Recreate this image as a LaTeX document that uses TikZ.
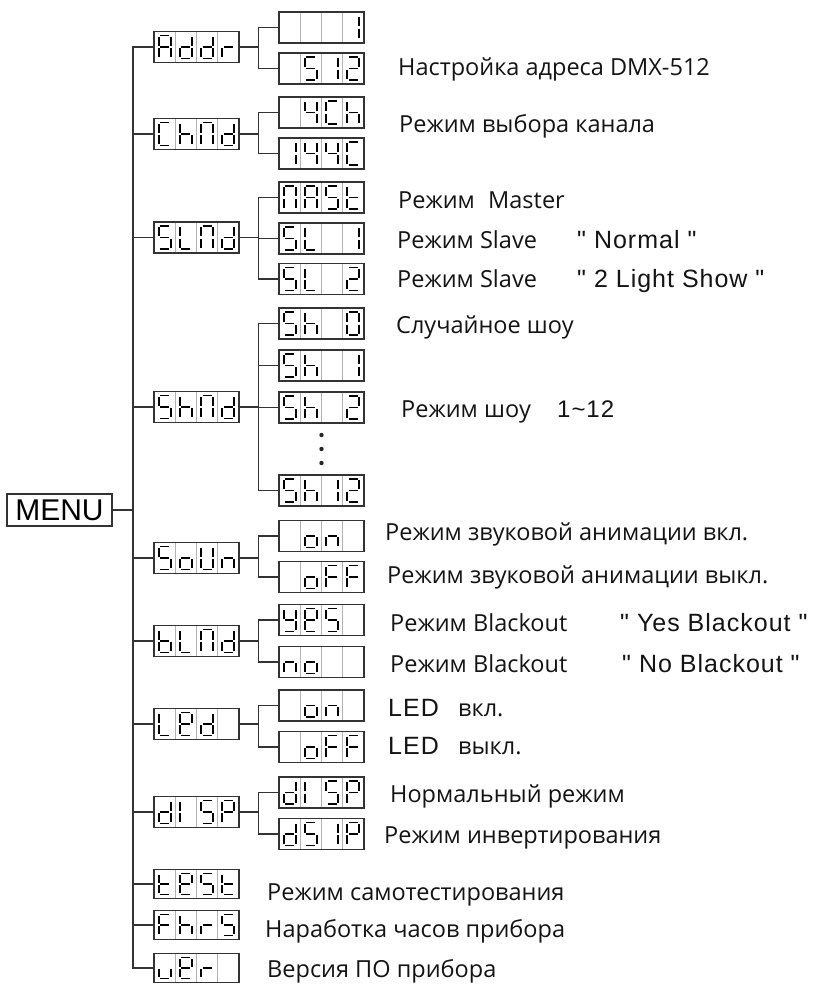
\documentclass[tikz,border=0pt]{standalone}
\usepackage{fontspec}
\setmainfont{Open Sans}
\newfontfamily\ari{Liberation Sans}
\newfontfamily\aris[LetterSpace=4]{Liberation Sans}
\newcommand\qtf{\aris\fontsize{25}{28}\selectfont}
\usetikzlibrary{calc}
\tikzset{
  conn/.style={draw=black!80, line width=1.4pt},
  lcdbox/.style={draw=black!80, line width=1.3pt, minimum width=85pt, inner sep=0pt, outer sep=0pt},
  cellline/.style={draw=black!30, line width=0.9pt},
  segline/.style={draw=black, line width=1.8pt},
  ru/.style={anchor=base west, inner sep=0pt, text=black!92, font=\fontsize{23.5}{27}\selectfont},
  dotmark/.style={fill=black!85},
}
\def\gp{1.4}
\pgfkeys{
  /seg/a/.code={\draw[segline] (\xl+\gp,\yt) -- (\xr-\gp,\yt);},
  /seg/b/.code={\draw[segline] (\xr,\yt+\gp) -- (\xr,-\gp);},
  /seg/c/.code={\draw[segline] (\xr,\gp) -- (\xr,\yb-\gp);},
  /seg/d/.code={\draw[segline] (\xl+\gp,\yb) -- (\xr-\gp,\yb);},
  /seg/e/.code={\draw[segline] (\xl,\gp) -- (\xl,\yb-\gp);},
  /seg/f/.code={\draw[segline] (\xl,\yt+\gp) -- (\xl,-\gp);},
  /seg/g/.code={\draw[segline] (\xl+\gp,0) -- (\xr-\gp,0);},
}
\newcommand\segs[1]{\foreach \sg in {#1}{\pgfkeys{/seg/\sg}}}
\pgfkeys{
  /ch/sp/.code={},
  /ch/A/.code={\segs{a,b,c,e,f,g}},
  /ch/d/.code={\segs{b,c,d,e,g}},
  /ch/r/.code={\segs{e,g}},
  /ch/1/.code={\segs{b,c}},
  /ch/5/.code={\segs{a,f,g,c,d}},
  /ch/2/.code={\segs{a,b,g,e,d}},
  /ch/4/.code={\segs{f,g,b,c}},
  /ch/C/.code={\segs{a,f,e,d}},
  /ch/h/.code={\segs{f,e,g,c}},
  /ch/N/.code={\segs{a,b,c,e,f}},
  /ch/t/.code={\segs{f,e,g,d}},
  /ch/L/.code={\segs{f,e,d}},
  /ch/0/.code={\segs{a,b,c,d,e,f}},
  /ch/o/.code={\segs{g,c,d,e}},
  /ch/n/.code={\segs{g,e,c}},
  /ch/F/.code={\segs{a,f,g,e}},
  /ch/U/.code={\segs{b,c,d,e,f}},
  /ch/b/.code={\segs{f,e,g,c,d}},
  /ch/y/.code={\segs{f,g,b,c,d}},
  /ch/E/.code={\segs{a,b,f,g,e,d}},
  /ch/Il/.code={\segs{e,f}},
  /ch/P/.code={\segs{a,b,f,g,e}},
  /ch/v/.code={\segs{e,d,c}},
}
\newcommand\lcdcell[2]{%
  \pgfmathsetmacro\xl{-42.5+#1*21.25+4.6}%
  \pgfmathsetmacro\xr{-42.5+#1*21.25+16.6}%
  \pgfkeys{/ch/#2}}
\newcommand\lcd[8][15.5]{%
  \begin{scope}[shift={(#3,#4)}]
    \pgfmathsetmacro\yt{-#1+4}\pgfmathsetmacro\yb{#1-4}%
    \node[lcdbox, minimum height={2*#1pt}] (#2) at (0,0) {};
    \foreach \k in {1,2,3}{\draw[cellline] (-42.5+\k*21.25,-#1+0.65) -- (-42.5+\k*21.25,#1-0.65);}
    \lcdcell{0}{#5}\lcdcell{1}{#6}\lcdcell{2}{#7}\lcdcell{3}{#8}
  \end{scope}}
\begin{document}
\begin{tikzpicture}[x=1pt,y=-1pt]
\fill[white] (0,0) rectangle (816,984);
\useasboundingbox (0,0) rectangle (816,984);

% ---- display boxes ----
\lcd{addr}{196.5}{47}{A}{d}{d}{r}
\lcd{addrA}{321.5}{27.5}{sp}{sp}{sp}{1}
\lcd{addrB}{321.5}{68.5}{sp}{5}{1}{2}
\lcd{chnd}{196.5}{134}{C}{h}{N}{d}
\lcd{chA}{321.5}{112.5}{sp}{4}{C}{h}
\lcd{chB}{321.5}{153.5}{1}{4}{4}{C}
\lcd{slnd}{196.5}{237.5}{5}{L}{N}{d}
\lcd{slA}{321.5}{197.5}{N}{A}{5}{t}
\lcd{slB}{321.5}{238.5}{5}{L}{sp}{1}
\lcd{slC}{321.5}{279}{5}{L}{sp}{2}
\lcd{shnd}{196.5}{407}{5}{h}{N}{d}
\lcd{shA}{321.5}{323.5}{5}{h}{sp}{0}
\lcd{shB}{321.5}{365.5}{5}{h}{sp}{1}
\lcd{shC}{321.5}{407.5}{5}{h}{sp}{2}
\lcd{shD}{321.5}{490.5}{5}{h}{1}{2}
\lcd{soun}{196.5}{558}{5}{o}{U}{n}
\lcd{soA}{321.5}{536}{sp}{o}{n}{sp}
\lcd{soB}{321.5}{577}{sp}{o}{F}{F}
\lcd{blnd}{196.5}{641}{b}{L}{N}{d}
\lcd{blA}{321.5}{620}{y}{E}{5}{sp}
\lcd{blB}{321.5}{662}{n}{o}{sp}{sp}
\lcd{led}{196.5}{724}{L}{E}{d}{sp}
\lcd{leA}{321.5}{705.5}{sp}{o}{n}{sp}
\lcd{leB}{321.5}{747}{sp}{o}{F}{F}
\lcd{disp}{196.5}{812}{d}{Il}{5}{P}
\lcd{diA}{321.5}{792.5}{d}{Il}{5}{P}
\lcd{diB}{321.5}{834}{d}{5}{1}{P}
\lcd[14.5]{test}{196.5}{884}{t}{E}{5}{t}
\lcd[14.5]{fhrs}{196.5}{925}{F}{h}{r}{5}
\lcd[14.5]{ver}{196.5}{968}{v}{E}{r}{sp}

\node[draw=black!80, line width=1.3pt, minimum width=105pt, minimum height=32pt, inner sep=0pt,
      font=\ari\fontsize{30}{30}\selectfont] (menu) at (59.5,510) {MENU};

\fill[dotmark] (321.5,435) circle (2.2) (321.5,449) circle (2.2) (321.5,463) circle (2.2);

% ---- trunk ----
\coordinate (trunk) at (133,0);
\draw[conn] (addr.west) -- (addr.west -| trunk) -- (ver.west -| trunk) -- (ver.west);
\foreach \n in {chnd,slnd,shnd,soun,blnd,led,disp,test,fhrs}{\draw[conn] (\n.west) -- (\n.west -| trunk);}
\draw[conn] (menu.east) -- (menu.east -| trunk);

% ---- branches ----
\coordinate (br) at (258.5,0);
\foreach \p/\f/\l in {addr/addrA/addrB, chnd/chA/chB, slnd/slA/slC, shnd/shA/shD, soun/soA/soB, blnd/blA/blB, led/leA/leB, disp/diA/diB}{
  \draw[conn] (\f.west) -- (\f.west -| br) -- (\l.west -| br) -- (\l.west);
  \draw[conn] (\p.east) -- (\p.east -| br);
}
\foreach \m in {slB,shB,shC}{\draw[conn] (\m.west) -- (\m.west -| br);}

% ---- texts ----
\node[ru] (t1) at (398,76) {Настройка адреса DMX-512};
\node[ru] (t2) at (399,133) {Режим выбора канала};
\node[ru] (t3) at (398,209) {\makebox[90pt][l]{Режим}Master};
\node[ru] (t4) at (397,248) {\makebox[180pt][l]{Режим Slave}{\qtf " Normal "}};
\node[ru] (t5) at (397,287) {\makebox[180pt][l]{Режим Slave}{\qtf " 2 Light Show "}};
\node[ru] (t6) at (396,333) {Случайное шоу};
\node[ru] (t7) at (401,417) {\makebox[156pt][l]{Режим шоу}{\aris\fontsize{24}{26}\selectfont 1\textasciitilde 12}};
\node[ru] (t8) at (385,540) {Режим звуковой анимации вкл.};
\node[ru] (t9) at (387,583) {Режим звуковой анимации выкл.};
\node[ru] (t10) at (390,631) {\makebox[230pt][l]{Режим Blackout}{\qtf " Yes Blackout "}};
\node[ru] (t11) at (390,672) {\makebox[232pt][l]{Режим Blackout}{\qtf " No Blackout "}};
\node[ru] (t12) at (388,716) {\makebox[70pt][l]{\qtf LED}вкл.};
\node[ru] (t13) at (388,754) {\makebox[70pt][l]{\qtf LED}выкл.};
\node[ru] (t14) at (390,802) {Нормальный режим};
\node[ru] (t15) at (384,843) {Режим инвертирования};
\node[ru] (t16) at (267,900) {Режим самотестирования};
\node[ru] (t17) at (265,937) {Наработка часов прибора};
\node[ru] (t18) at (267,977) {Версия ПО прибора};
\end{tikzpicture}
\end{document}
